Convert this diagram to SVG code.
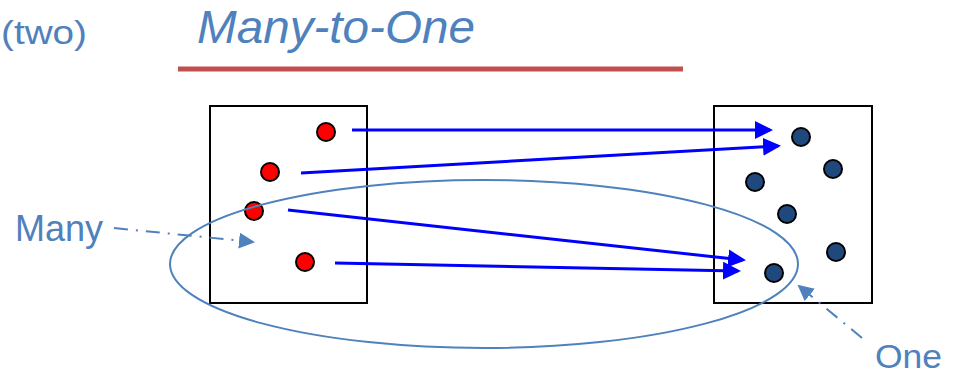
<svg xmlns="http://www.w3.org/2000/svg" width="957" height="375" viewBox="0 0 957 375">
<style>
.box{fill:#fff;stroke:#000;stroke-width:2}
.red{fill:#ff0000;stroke:#000;stroke-width:2}
.navy{fill:#1f497d;stroke:#000;stroke-width:2}
.arr{stroke:#0000ff;stroke-width:3;fill:none}
.lbl{fill:#4f81bd;font-family:"Liberation Sans","DejaVu Sans",sans-serif}
.dd{stroke:#4f81bd;stroke-width:2;fill:none;stroke-dasharray:14 8 2 8}
</style>
<defs>
<marker id="ah" markerWidth="6" markerHeight="6" refX="5" refY="3" orient="auto" markerUnits="strokeWidth" viewBox="0 0 6 6">
<path d="M0,0 L6,3 L0,6 Z" fill="#0000ff"/>
</marker>
<marker id="ah2" markerWidth="8" markerHeight="8" refX="7" refY="4" orient="auto" markerUnits="strokeWidth" viewBox="0 0 8 8">
<path d="M0,0 L8,4 L0,8 Z" fill="#4f81bd"/>
</marker>
</defs>
<text class="lbl" x="1" y="44" font-size="34" textLength="86" lengthAdjust="spacingAndGlyphs">(two)</text>
<text class="lbl" x="197" y="43" font-size="47" font-style="italic" textLength="278" lengthAdjust="spacingAndGlyphs">Many-to-One</text>
<line x1="178" y1="69" x2="683" y2="69" stroke="#c0504d" stroke-width="5"/>
<g id="left-set">
<rect class="box" x="210" y="106" width="157" height="197"/>
<circle class="red" cx="326" cy="132" r="9"/>
<circle class="red" cx="270" cy="172" r="9"/>
<circle class="red" cx="254" cy="211" r="9"/>
<circle class="red" cx="305" cy="262" r="9"/>
</g>
<g id="right-set">
<rect class="box" x="714" y="106" width="158" height="197"/>
<circle class="navy" cx="801" cy="137" r="9"/>
<circle class="navy" cx="833" cy="169" r="9"/>
<circle class="navy" cx="755" cy="182" r="9"/>
<circle class="navy" cx="787" cy="214" r="9"/>
<circle class="navy" cx="836" cy="252" r="9"/>
<circle class="navy" cx="774" cy="273" r="9"/>
</g>
<g id="many-ellipse">
<ellipse cx="484" cy="264" rx="314" ry="84" fill="none" stroke="#4f81bd" stroke-width="2"/>
</g>
<g id="connectors">
<line class="arr" x1="352" y1="130" x2="770" y2="130" marker-end="url(#ah)"/>
<line class="arr" x1="301" y1="173" x2="778" y2="146" marker-end="url(#ah)"/>
<line class="arr" x1="288" y1="210" x2="743" y2="260" marker-end="url(#ah)"/>
<line class="arr" x1="335" y1="263" x2="738" y2="271" marker-end="url(#ah)"/>
<line class="dd" x1="114" y1="228" x2="253" y2="242" marker-end="url(#ah2)"/>
<line class="dd" x1="862" y1="338" x2="799" y2="286" marker-end="url(#ah2)"/>
</g>
<g id="labels">
<text class="lbl" x="15" y="241" font-size="36" textLength="88" lengthAdjust="spacingAndGlyphs">Many</text>
<text class="lbl" x="875" y="368" font-size="34" textLength="67" lengthAdjust="spacingAndGlyphs">One</text>
</g>
</svg>
